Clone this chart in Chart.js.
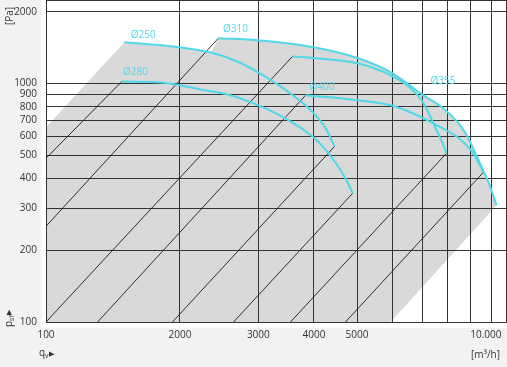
<!DOCTYPE html>
<html>
<head>
<meta charset="utf-8">
<script src="https://cdn.jsdelivr.net/npm/chart.js@4.4.1/dist/chart.umd.min.js"></script>
<style>
  html, body { margin: 0; padding: 0; background: #f2f2f2; }
  #wrap { position: relative; width: 507px; height: 367px; }
  #plotBg { position: absolute; left: 41px; top: 0; width: 466px; height: 328px; background: #fff; }
  #chart { position: absolute; left: 0; top: 0; }
</style>
</head>
<body>
<div id="wrap"><div id="plotBg"></div><canvas id="chart" width="507" height="367"></canvas></div>
<script>
// fan curves: flow q [m3/h] and pressure p [Pa]
const q250 = [1500, 2000, 2350, 2740, 3110, 3540, 3930, 4250, 4450];
const p250 = [1490, 1420, 1350, 1220, 1070, 910, 775, 650, 545];
const q280 = [1480, 1810, 2000, 2220, 2560, 3030, 3450, 3990, 4430, 4710, 4890];
const p280 = [1020, 1010, 985, 945, 900, 805, 715, 595, 478, 400, 347];
const q310 = [2440, 2990, 3990, 5010, 5950, 7050, 7900, 8770, 9370, 9870, 10290];
const p310 = [1550, 1520, 1420, 1280, 1115, 893, 773, 619, 477, 385, 309];
const q355 = [3580, 3990, 5010, 5950, 6560, 7050, 7420, 7820, 7940];
const p355 = [1300, 1280, 1217, 1083, 965, 827, 681, 551, 510];
const q400 = [3830, 4360, 5010, 5950, 6590, 7050, 7700, 8410, 9090, 9620];
const p400 = [893, 876, 851, 811, 758, 715, 656, 595, 515, 425];

// system lines (black diagonals), upper end -> lower end
const sysQ1 = [1480, 2440, 3580, 3830, 4450, 4890, 7940, 9620];
const sysP1 = [1020, 1550, 1300, 893, 545, 347, 510, 425];
const sysQ2 = [1000, 1000, 1000, 1306, 1924, 2639, 3543, 4710];
const sysP2 = [486, 252, 100, 100, 100, 100, 100, 100];

// grey working range: left edge at q=1000, bottom edge at p=100
const grayLeftP = 656;
const grayBottomQ = 5950;

// curve labels
const labelText = ['Ø250', 'Ø280', 'Ø310', 'Ø400', 'Ø355'];
const labelQ = [1550, 1490, 2500, 3910, 7310];
const labelP = [1594, 1115, 1690, 965, 1022];

const xTicks = [1000, 2000, 3000, 4000, 5000, 6000, 7000, 8000, 9000, 10000];
const xTickLabels = ['100', '2000', '3000', '4000', '5000', '', '', '', '', '10.000    '];
const yTicks = [100, 200, 300, 400, 500, 600, 700, 800, 900, 1000, 2000];
const yTickLabels = yTicks.map(String);

const CYAN = '#4fd8e7';
const FONT = "'Open Sans', 'Noto Sans', sans-serif";

let toPoints = (qs, ps) => qs.map((q, i) => ({x: q, y: ps[i]}));

let curve = (qs, ps) => ({
    data: toPoints(qs, ps),
    showLine: true,
    borderColor: CYAN,
    borderWidth: 2,
    pointRadius: 0,
    cubicInterpolationMode: 'monotone',
    fill: false
});

let datasets = [
    curve(q250, p250), curve(q280, p280), curve(q310, p310),
    curve(q355, p355), curve(q400, p400)
];

sysQ1.forEach((q, i) => {
    datasets.push({
        data: [{x: q, y: sysP1[i]}, {x: sysQ2[i], y: sysP2[i]}],
        showLine: true,
        borderColor: '#1a1a1a',
        borderWidth: 0.9,
        pointRadius: 0,
        fill: false
    });
});

// grey polygon: left edge, top of 250 curve, link to 310, 310 curve, right edge, bottom
let grayQ = [1000].concat(q250.slice(0, 3), q310, [grayBottomQ, 1000]);
let grayP = [grayLeftP].concat(p250.slice(0, 3), p310, [100, 100]);
datasets.push({
    data: toPoints(grayQ, grayP),
    showLine: true,
    borderColor: 'rgba(0,0,0,0)',
    borderWidth: 0,
    backgroundColor: '#d9d9d9',
    pointRadius: 0,
    fill: 'shape'
});

const labelsPlugin = {
    id: 'curveLabels',
    afterDatasetsDraw(chart) {
        let ctx = chart.ctx;
        let xs = chart.scales.x, ys = chart.scales.y;
        ctx.save();
        ctx.font = '10px ' + FONT;
        ctx.fillStyle = CYAN;
        ctx.textAlign = 'left';
        ctx.textBaseline = 'middle';
        labelText.forEach((t, i) => {
            ctx.fillText(t, xs.getPixelForValue(labelQ[i]), ys.getPixelForValue(labelP[i]));
        });
        ctx.restore();
    }
};

// unit / symbol texts around the axes
const axisTextPlugin = {
    id: 'axisText',
    afterDraw(chart) {
        let ctx = chart.ctx;
        ctx.save();
        ctx.fillStyle = '#333';
        ctx.textBaseline = 'alphabetic';

        // [Pa] rotated, top left
        ctx.save();
        ctx.translate(13, 25);
        ctx.rotate(-Math.PI / 2);
        ctx.font = '10px ' + FONT;
        ctx.fillText('[Pa]', 0, 0);
        ctx.restore();

        // p_sf ▶ rotated, bottom left
        ctx.save();
        ctx.translate(12, 327);
        ctx.rotate(-Math.PI / 2);
        ctx.font = '10px ' + FONT;
        ctx.fillText('p', 0, 0);
        let w = ctx.measureText('p').width;
        ctx.font = '7px ' + FONT;
        ctx.fillText('sf', w, 2);
        w += ctx.measureText('sf').width + 0.5;
        ctx.fillText('▶', w, -1);
        ctx.restore();

        // q_v ▶ under the x axis
        ctx.font = '10px ' + FONT;
        ctx.fillText('q', 39, 356);
        let wq = ctx.measureText('q').width;
        ctx.font = '7px ' + FONT;
        ctx.fillText('v', 39 + wq, 358);
        wq += ctx.measureText('v').width + 0.5;
        ctx.fillText('▶', 39 + wq, 356);

        // unit right
        ctx.font = '10px ' + FONT;
        ctx.textAlign = 'right';
        ctx.fillText('[m³/h]', 500, 358);
        ctx.restore();
    }
};

new Chart(document.getElementById('chart'), {
    type: 'scatter',
    data: {datasets: datasets},
    options: {
        responsive: false,
        animation: false,
        devicePixelRatio: 1,
        layout: {padding: {top: 0, right: 1, left: 0, bottom: 0}},
        plugins: {
            legend: {display: false},
            tooltip: {enabled: false},
            filler: {propagate: false, drawTime: 'beforeDraw'}
        },
        scales: {
            x: {
                type: 'logarithmic',
                min: 1000,
                max: 10806,
                afterBuildTicks: scale => {
                    scale.ticks = xTicks.map(v => ({value: v})).concat([{value: scale.max}]);
                },
                afterFit: scale => {
                    scale.height = 45;
                    scale.paddingLeft = 0;
                    scale.paddingRight = 0;
                },
                grid: {color: '#333', lineWidth: 1, drawTicks: false},
                border: {display: true, color: '#333'},
                ticks: {
                    autoSkip: false,
                    maxRotation: 0,
                    padding: 7,
                    color: '#333',
                    font: {family: FONT, size: 10},
                    callback: (v, i) => xTickLabels[i] ?? ''
                }
            },
            y: {
                type: 'logarithmic',
                min: 100,
                max: 2242,
                afterBuildTicks: scale => {
                    scale.ticks = yTicks.map(v => ({value: v})).concat([{value: scale.max}]);
                },
                afterFit: scale => {
                    scale.width = 46;
                    scale.paddingTop = 0;
                    scale.paddingBottom = 0;
                },
                grid: {color: '#333', lineWidth: 1, drawTicks: false},
                border: {display: true, color: '#333'},
                ticks: {
                    autoSkip: false,
                    padding: 9,
                    color: '#333',
                    font: {family: FONT, size: 10},
                    callback: (v, i) => yTickLabels[i] ?? ''
                }
            }
        }
    },
    plugins: [labelsPlugin, axisTextPlugin]
});
</script>
</body>
</html>
